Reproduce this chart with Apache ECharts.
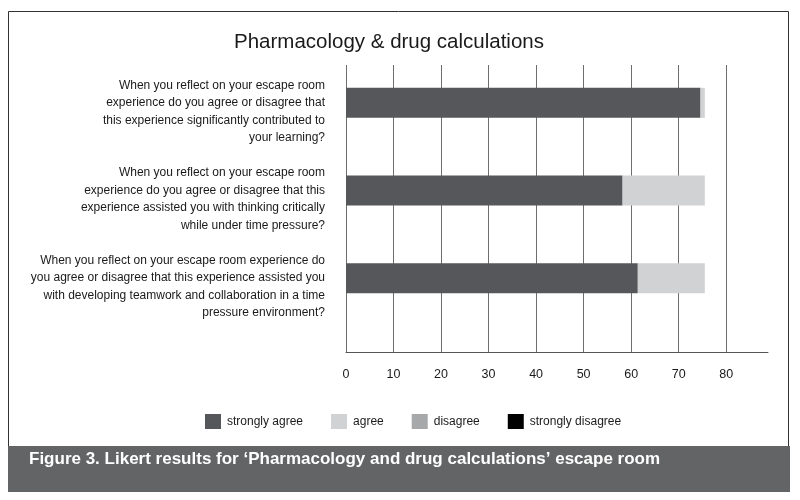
<!DOCTYPE html>
<html>
<head>
<meta charset="utf-8">
<script src="https://cdn.jsdelivr.net/npm/echarts@6/dist/echarts.min.js"></script>
<style>
html,body{margin:0;padding:0;background:#fff;}
#chart{width:800px;height:500px;}
</style>
</head>
<body>
<div id="chart"></div>
<script>
var chartTitle = 'Pharmacology & drug calculations';
var caption = 'Figure 3. Likert results for \u2018Pharmacology and drug calculations\u2019 escape room';
var categories = [
  'When you reflect on your escape room\nexperience do you agree or disagree that\nthis experience significantly contributed to\nyour learning?',
  'When you reflect on your escape room\nexperience do you agree or disagree that this\nexperience assisted you with thinking critically\nwhile under time pressure?',
  'When you reflect on your escape room experience do\nyou agree or disagree that this experience assisted you\nwith developing teamwork and collaboration in a time\npressure environment?'
];
var seriesNames = ['strongly agree', 'agree', 'disagree', 'strongly disagree'];
var stronglyAgree = [74.6, 58.2, 61.4];
var agree = [0.9, 17.3, 14.1];
var disagree = [0, 0, 0];
var stronglyDisagree = [0, 0, 0];
var xTicks = [0, 10, 20, 30, 40, 50, 60, 70, 80];

var FONT = "'Liberation Sans',Arial,sans-serif";
var colors = ['#56575a', '#d1d2d4', '#a7a8aa', '#000000'];
var values = [stronglyAgree, agree, disagree, stronglyDisagree];

var chart = echarts.init(document.getElementById('chart'), null, {renderer: 'canvas'});
var series = seriesNames.map(function (n, i) {
  return {
    name: n, type: 'bar', stack: 'total',
    xAxisIndex: 1, yAxisIndex: 1,
    barWidth: 30,
    itemStyle: {color: colors[i]},
    data: values[i]
  };
});

chart.setOption({
  animation: false,
  color: colors,
  textStyle: {fontFamily: FONT},
  title: {
    text: chartTitle,
    left: 384, top: 27, textAlign: 'center',
    textStyle: {fontFamily: FONT, fontSize: 20.5, fontWeight: 'normal', color: '#1a1a1a'}
  },
  legend: {
    data: seriesNames,
    left: 200, top: 409,
    icon: 'rect', itemWidth: 16, itemHeight: 15, itemGap: 28,
    textStyle: {fontFamily: FONT, fontSize: 12, color: '#1a1a1a', padding: [0,0,0,1]}
  },
  grid: [
    {left: 346, right: 32, top: 65, bottom: 148, containLabel: false, outerBoundsMode: 'none'},
    {left: 346, right: 32, top: 59, height: 263, containLabel: false, outerBoundsMode: 'none'}
  ],
  xAxis: [
    {
      type: 'value', gridIndex: 0, min: xTicks[0], max: 88.8, interval: 10,
      axisLine: {show: true, lineStyle: {color: '#555', width: 1}},
      axisTick: {show: false},
      axisLabel: {showMaxLabel: false, margin: 16, fontFamily: FONT, fontSize: 12.5, color: '#1a1a1a'},
      splitLine: {show: true, showMinLine: true, showMaxLine: false, lineStyle: {color: '#6e6e6e', width: 1}}
    },
    {
      type: 'value', gridIndex: 1, min: xTicks[0], max: 88.8, interval: 10, show: false,
      splitLine: {show: false}
    }
  ],
  yAxis: [
    {type: 'category', gridIndex: 0, data: categories, show: false},
    {
      type: 'category', gridIndex: 1, data: categories, inverse: true,
      axisLine: {show: false}, axisTick: {show: false},
      axisLabel: {
        interval: 0, hideOverlap: false,
        margin: 21, fontFamily: FONT, fontSize: 12, lineHeight: 17.5,
        color: '#1a1a1a', align: 'right',
        formatter: function (v) { return '\n' + v; }
      }
    }
  ],
  graphic: [
    {type: 'rect', z: -10, silent: true, shape: {x: 8.5, y: 11.5, width: 780, height: 440},
     style: {fill: 'none', stroke: '#333', lineWidth: 1}},
    {type: 'rect', z: 10, silent: true, shape: {x: 8, y: 446, width: 782, height: 46},
     style: {fill: '#636466'}},
    {type: 'text', z: 11, silent: true, x: 29, y: 459,
     style: {text: caption, fill: '#ffffff', font: "bold 17px 'Liberation Sans',Arial,sans-serif", verticalAlign: 'middle'}}
  ],
  series: series
});
</script>
</body>
</html>
